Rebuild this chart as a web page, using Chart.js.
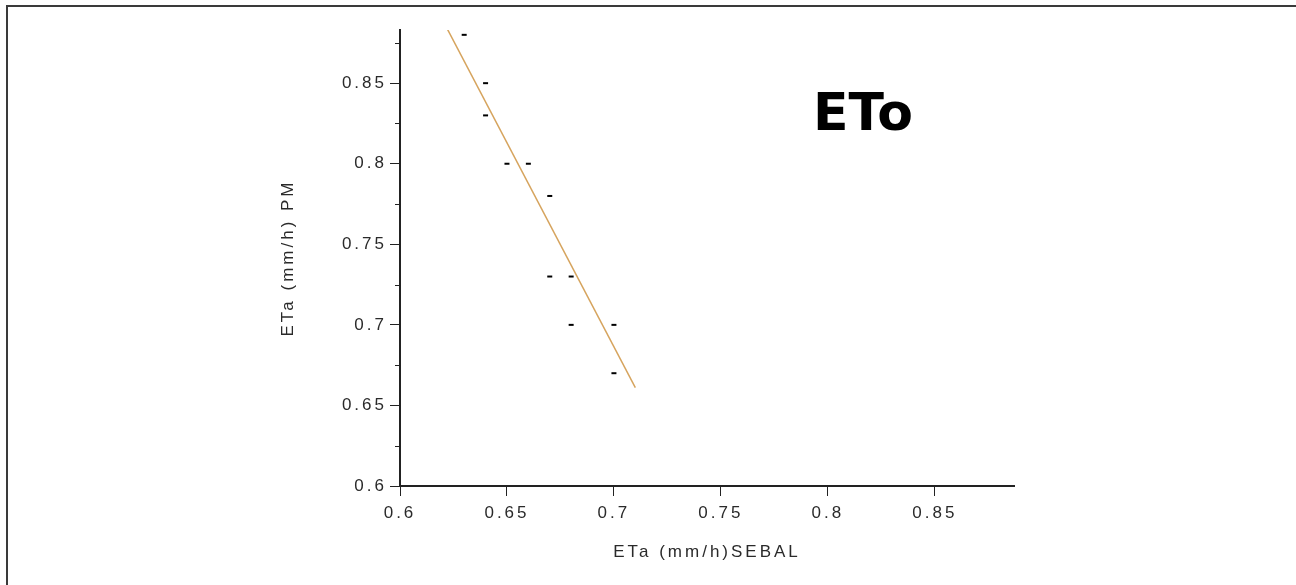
<!DOCTYPE html>
<html lang="en">
<head>
    <meta charset="UTF-8">
    <title>ETo scatter</title>
    <script src="https://cdn.jsdelivr.net/npm/chart.js"></script>
    <style>
        html, body { margin: 0; padding: 0; background: #fff; }
        #wrap { position: relative; width: 1296px; height: 585px; overflow: hidden; }
        #frame { position: absolute; left: 6px; top: 5px; right: -10px; bottom: -10px;
                 border-top: 2px solid #3a3a3a; border-left: 2px solid #3a3a3a; }
        canvas { position: absolute; left: 0; top: 0; }
    </style>
</head>
<body>
<div id="wrap">
    <div id="frame"></div>
    <canvas id="myChart" width="1296" height="585"></canvas>
</div>
<script>
    // values
    const sebal = [0.63, 0.64, 0.64, 0.65, 0.66, 0.67, 0.67, 0.68, 0.68, 0.70, 0.70];
    const pm    = [0.88, 0.85, 0.83, 0.80, 0.80, 0.78, 0.73, 0.73, 0.70, 0.70, 0.67];

    // trend line end points
    const fitX = [0.62, 0.71];
    const fitY = [0.889, 0.661];

    const xTicks = [0.6, 0.65, 0.7, 0.75, 0.8, 0.85];
    const yTicks = [0.6, 0.65, 0.7, 0.75, 0.8, 0.85];
    const yMinor = [0.625, 0.675, 0.725, 0.775, 0.825, 0.875];

    const axisColor = '#222';
    const textColor = '#2a2a2a';
    const tickFont = { family: 'Liberation Sans, Arial, sans-serif', size: 17 };

    // wide letter spacing like the original export
    const spacingPlugin = {
        id: 'spacing',
        beforeLayout: (chart) => { chart.ctx.letterSpacing = '3px'; },
        beforeDraw: (chart) => { chart.ctx.letterSpacing = '3px'; }
    };

    // short minor ticks on the y axis and the "ETo" label
    const extrasPlugin = {
        id: 'extras',
        afterDraw: (chart) => {
            const ctx = chart.ctx;
            const y = chart.scales.y;
            const x = chart.scales.x;
            ctx.save();
            ctx.strokeStyle = axisColor;
            ctx.lineWidth = 1;
            yMinor.forEach(v => {
                const py = Math.round(y.getPixelForValue(v)) + 0.5;
                ctx.beginPath();
                ctx.moveTo(y.right - 5, py);
                ctx.lineTo(y.right, py);
                ctx.stroke();
            });
            ctx.letterSpacing = '0px';
            ctx.fillStyle = '#000';
            ctx.font = 'bold 52px "DejaVu Sans", sans-serif';
            ctx.textAlign = 'center';
            ctx.textBaseline = 'middle';
            ctx.fillText('ETo', x.getPixelForValue(0.8164), y.getPixelForValue(0.8295));
            ctx.restore();
        }
    };

    Chart.register(spacingPlugin, extrasPlugin);

    const ctx = document.getElementById('myChart').getContext('2d');
    const chart = new Chart(ctx, {
        type: 'scatter',
        data: {
            datasets: [{
                label: 'ETa',
                data: sebal.map((v, i) => ({ x: v, y: pm[i] })),
                pointStyle: 'line',
                pointRadius: 2.5,
                pointBorderWidth: 2,
                borderColor: '#000',
                backgroundColor: '#000'
            }, {
                label: 'fit',
                type: 'line',
                data: fitX.map((v, i) => ({ x: v, y: fitY[i] })),
                borderColor: '#d6a45e',
                borderWidth: 1.5,
                pointRadius: 0,
                fill: false
            }]
        },
        options: {
            responsive: false,
            animation: false,
            layout: { padding: { left: 278, top: 30, right: 282, bottom: 0 } },
            plugins: {
                legend: { display: false },
                tooltip: { enabled: false }
            },
            scales: {
                x: {
                    type: 'linear',
                    min: 0.6,
                    max: 0.887,
                    afterBuildTicks: (s) => { s.ticks = xTicks.map(v => ({ value: v })); },
                    afterFit: (s) => { s.height = 99; },
                    border: { display: true, color: axisColor, width: 2 },
                    grid: { drawOnChartArea: false, drawTicks: true, tickLength: 10, tickColor: axisColor, tickWidth: 1 },
                    ticks: { color: textColor, font: tickFont, padding: 7, maxRotation: 0,
                             callback: (v) => String(v) },
                    title: { display: true, text: 'ETa (mm/h)SEBAL', color: textColor, font: tickFont,
                             padding: { top: 0, bottom: 22 } }
                },
                y: {
                    type: 'linear',
                    min: 0.6,
                    max: 0.883,
                    afterBuildTicks: (s) => { s.ticks = yTicks.map(v => ({ value: v })); },
                    afterFit: (s) => { s.width = 122; },
                    border: { display: true, color: axisColor, width: 2 },
                    grid: { drawOnChartArea: false, drawTicks: true, tickLength: 10, tickColor: axisColor, tickWidth: 1 },
                    ticks: { color: textColor, font: tickFont, padding: 3,
                             callback: (v) => String(v) },
                    title: { display: true, text: 'ETa (mm/h) PM', color: textColor, font: tickFont,
                             padding: { top: 0, bottom: 0 } }
                }
            }
        }
    });
</script>
</body>
</html>
